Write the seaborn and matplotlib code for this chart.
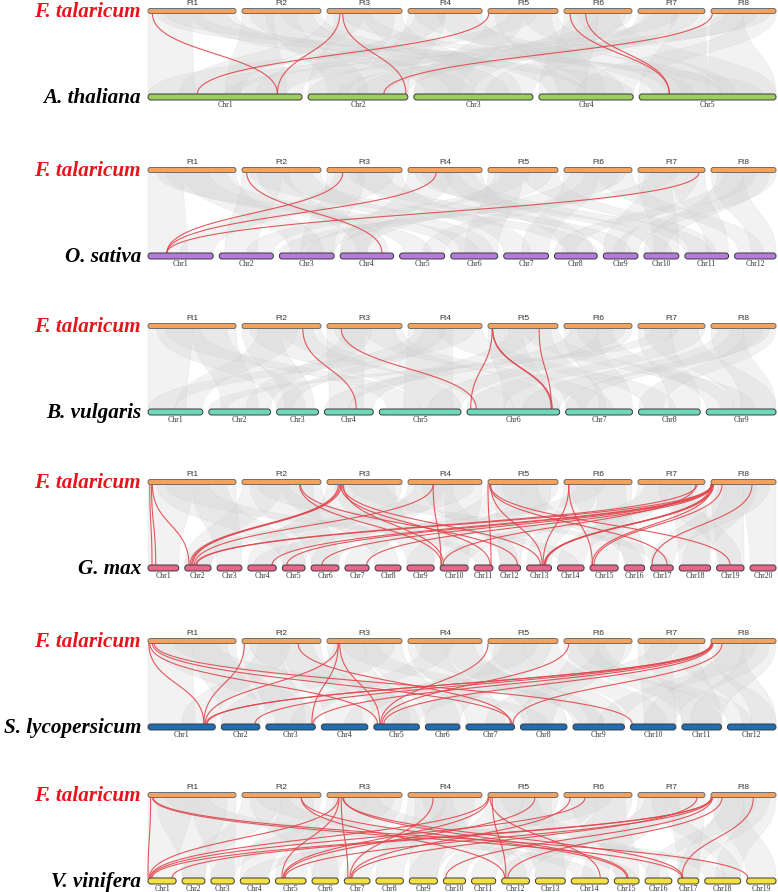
import numpy as np
import pandas as pd
import matplotlib
matplotlib.use("Agg")
import matplotlib.pyplot as plt
import seaborn as sns
from matplotlib.path import Path
from matplotlib.patches import PathPatch, FancyBboxPatch

sns.set_theme(style="white")
plt.rcParams["font.family"] = ["Liberation Serif", "DejaVu Serif"]

# ---------------- data ----------------
REF_NAME = "F. talaricum"
FT_NAMES = ["Ft1", "Ft2", "Ft3", "Ft4", "Ft5", "Ft6", "Ft7", "Ft8"]
FT_LEN = [88, 79, 75, 74, 70, 68, 67, 65]

SPECIES = ["A. thaliana", "O. sativa", "B. vulgaris", "G. max", "S. lycopersicum", "V. vinifera"]
ATH_LEN = [30.4, 19.7, 23.5, 18.6, 27.0]
OSA_LEN = [43.3, 35.9, 36.4, 35.5, 29.9, 31.2, 29.7, 28.4, 23.0, 23.2, 29.0, 27.5]
BVU_LEN = [55, 62, 42, 49, 82, 93, 67, 62, 70]
GMA_LEN = [56.8, 48.6, 45.8, 52.4, 42.2, 51.4, 44.6, 47.8, 50.2, 51.6,
           34.8, 40.1, 45.9, 49.0, 51.8, 37.9, 41.6, 58.0, 50.7, 47.9]
SLY_LEN = [68, 39, 50, 47, 46, 35, 49, 47, 52, 46, 40, 49]
VVI_LEN = [23.0, 18.7, 19.1, 23.9, 25.0, 21.5, 21.0, 22.4, 23.0, 18.1,
           19.8, 22.7, 24.4, 30.3, 20.3, 21.9, 17.1, 29.4, 24.0]

# red (highlighted) links: (Ft chr, position fraction, target chr, position fraction)
RED_ATH = [(1, .05, 1, .84), (3, .17, 1, .84), (3, .21, 2, .98), (5, .01, 1, .32),
           (8, .02, 2, .76), (6, .09, 5, .22), (6, .32, 5, .22)]
RED_OSA = [(2, .06, 4, .78), (3, .21, 1, .29), (4, .38, 1, .29), (7, .91, 1, .29)]
RED_BVU = [(2, .77, 4, .65), (3, .19, 6, .10), (5, .06, 6, .04), (5, .06, 6, .91),
           (5, .07, 6, .92), (5, .73, 6, .91)]
RED_GMA = [(1, .02, 1, .13), (1, .05, 2, .16), (1, .04, 1, .25),
           (2, .73, 10, .05), (2, .74, 12, .85),
           (3, .15, 2, .20), (3, .17, 2, .26), (3, .19, 2, .30), (3, .20, 13, .55),
           (3, .18, 11, .85), (3, .22, 10, .12),
           (4, .34, 10, .03), (4, .34, 2, .36),
           (5, .00, 11, .90), (5, .02, 17, .73), (5, .03, 19, .49), (5, .04, 13, .62),
           (6, .07, 13, .66), (6, .07, 15, .08),
           (7, .88, 2, .42), (7, .86, 10, .10),
           (8, .00, 13, .70), (8, .02, 13, .73), (8, .04, 13, .76), (8, .02, 15, .07),
           (8, .17, 15, .14), (8, .63, 17, .06), (8, .00, 4, .85), (8, .01, 6, .39),
           (8, .02, 7, .90), (8, .01, 2, .45), (8, .03, 5, .20)]
RED_SLY = [(1, .01, 1, .83), (1, .02, 5, .08), (1, .05, 7, .95), (1, .07, 10, .04),
           (2, .03, 1, .83), (2, .71, 7, .92),
           (3, .15, 1, .85), (3, .15, 3, .93), (3, .17, 5, .13),
           (5, .00, 5, .15), (6, .07, 5, .18),
           (8, .00, 1, .86), (8, .02, 1, .88), (8, .01, 2, .87), (8, .02, 3, .95),
           (8, .17, 7, .97), (8, .03, 5, .22)]
RED_VVI = [(1, .03, 1, .00), (1, .06, 19, .04), (1, .05, 17, .20),
           (2, .75, 15, .50), (2, .75, 12, .11),
           (3, .15, 1, .04), (3, .16, 5, .21), (3, .19, 7, .14), (3, .21, 17, .24),
           (3, .22, 15, .55), (4, .34, 7, .22),
           (5, .00, 1, .07), (5, .01, 5, .25), (5, .03, 14, .78), (5, .06, 12, .15),
           (5, .67, 5, .28), (6, .09, 7, .26), (6, .31, 1, .10), (7, .88, 7, .30),
           (8, .00, 1, .85), (8, .01, 5, .31), (8, .02, 10, .10), (8, .17, 12, .22),
           (8, .65, 17, .19), (8, .02, 1, .14)]

# background synteny blocks: (Ft chr, start frac, end frac, target chr, start frac, end frac)
GRAY_ATH = [(1, 0, .5, 1, 0, .3), (1, .5, 1, 3, .1, .5), (1, .2, .6, 5, .6, .9),
            (2, 0, .4, 1, .5, .9), (2, .5, 1, 4, .1, .5), (2, .3, .7, 2, .2, .6),
            (3, 0, .5, 1, .2, .6), (3, .5, 1, 3, .5, .9), (3, .2, .6, 5, .1, .4),
            (4, 0, .5, 2, .5, 1), (4, .4, 1, 4, .5, .9), (4, .1, .5, 1, .7, 1),
            (5, 0, .5, 3, 0, .4), (5, .5, 1, 5, .3, .7), (5, .3, .7, 1, 0, .3),
            (6, 0, .5, 4, 0, .5), (6, .5, 1, 2, 0, .4), (6, .2, .8, 5, .6, 1),
            (7, 0, .6, 3, .6, 1), (7, .5, 1, 5, 0, .5), (7, .2, .6, 1, .3, .6),
            (8, 0, .5, 5, .5, 1), (8, .5, 1, 4, .4, 1), (8, .2, .7, 2, .3, .8),
            (1, .1, .9, 4, .5, 1), (2, .1, .9, 3, .3, .8), (3, .1, .9, 2, 0, .5),
            (4, .1, .9, 5, .2, .6), (5, .1, .9, 4, .2, .7), (6, .1, .9, 3, 0, .5),
            (7, .1, .9, 2, .5, 1), (8, .1, .9, 1, .5, .9)]
GRAY_OSA = [(1, 0, .4, 1, 0, .6), (1, .4, 1, 3, .2, .8), (1, .2, .7, 5, .1, .7),
            (2, 0, .5, 2, .1, .7), (2, .5, 1, 6, .2, .9), (2, .2, .6, 4, .3, .9),
            (3, 0, .5, 3, .4, 1), (3, .4, 1, 7, 0, .6), (3, .3, .8, 9, .1, .8),
            (4, 0, .6, 4, 0, .5), (4, .5, 1, 8, .2, .9), (4, .2, .7, 10, .2, .8),
            (5, 0, .5, 6, .3, 1), (5, .5, 1, 11, .1, .7), (5, .2, .6, 2, .5, 1),
            (6, 0, .5, 7, .4, 1), (6, .5, 1, 12, .1, .7), (6, .3, .8, 5, .5, 1),
            (7, 0, .5, 10, .3, 1), (7, .5, 1, 11, .5, 1), (7, .2, .6, 3, 0, .4),
            (8, 0, .5, 12, .4, 1), (8, .5, 1, 9, .3, 1), (8, .2, .7, 8, 0, .5),
            (1, .1, .9, 6, 0, .6), (2, .1, .9, 8, .3, 1), (3, .1, .9, 1, .5, 1),
            (4, .1, .9, 11, 0, .6), (5, .1, .9, 4, 0, .5), (6, .1, .9, 3, .5, 1),
            (7, .1, .9, 9, 0, .6), (8, .1, .9, 10, 0, .6)]
GRAY_BVU = [(1, 0, .5, 1, 0, .7), (1, .5, 1, 2, .2, .8), (1, .2, .6, 5, .1, .5),
            (2, 0, .5, 3, .2, .9), (2, .5, 1, 6, .1, .5), (2, .2, .7, 1, .5, 1),
            (3, 0, .5, 4, .1, .8), (3, .5, 1, 7, .2, .7), (3, .2, .6, 2, .6, 1),
            (4, 0, .6, 5, .3, .9), (4, .4, 1, 8, .1, .6), (4, .2, .5, 3, 0, .4),
            (5, 0, .5, 6, .4, .9), (5, .5, 1, 9, .2, .7), (5, .3, .7, 4, .5, 1),
            (6, 0, .5, 7, .5, 1), (6, .5, 1, 5, .6, 1), (6, .2, .7, 9, 0, .4),
            (7, 0, .5, 8, .5, 1), (7, .5, 1, 6, 0, .4), (7, .2, .6, 2, 0, .3),
            (8, 0, .5, 9, .5, 1), (8, .5, 1, 8, 0, .4), (8, .3, .8, 7, 0, .3),
            (1, .1, .9, 3, 0, .7), (2, .1, .9, 5, .5, 1), (3, .1, .9, 6, .5, 1),
            (4, .1, .9, 1, 0, .5), (5, .1, .9, 7, 0, .6), (6, .1, .9, 4, 0, .5),
            (7, .1, .9, 9, .4, 1), (8, .1, .9, 6, .6, 1)]
GRAY_GMA = [(1, 0, .5, 1, 0, 1), (1, .5, 1, 3, 0, 1), (1, .2, .7, 11, .1, .9),
            (2, 0, .5, 2, 0, 1), (2, .5, 1, 8, 0, .9), (2, .2, .6, 14, .1, .8),
            (3, 0, .4, 4, 0, 1), (3, .4, 1, 5, 0, 1), (3, .3, .8, 17, .1, .9),
            (4, 0, .5, 6, 0, 1), (4, .5, 1, 10, .2, 1), (4, .2, .6, 12, .1, .9),
            (5, 0, .5, 7, 0, 1), (5, .5, 1, 9, 0, 1), (5, .2, .7, 16, .1, .9),
            (6, 0, .5, 13, 0, 1), (6, .5, 1, 15, 0, 1), (6, .2, .6, 4, .2, .9),
            (7, 0, .5, 14, 0, 1), (7, .5, 1, 18, 0, 1), (7, .3, .8, 19, .1, .9),
            (8, 0, .5, 19, 0, 1), (8, .5, 1, 20, 0, 1), (8, .2, .7, 18, .1, .9),
            (1, .1, .9, 5, 0, 1), (2, .1, .9, 6, 0, 1), (3, .1, .9, 9, 0, 1),
            (4, .1, .9, 2, 0, 1), (5, .1, .9, 12, 0, 1), (6, .1, .9, 16, 0, 1),
            (7, .1, .9, 10, 0, 1), (8, .1, .9, 17, 0, 1)]
GRAY_SLY = [(1, 0, .5, 1, 0, .7), (1, .5, 1, 2, 0, 1), (1, .3, .8, 8, .1, .6),
            (2, 0, .5, 3, 0, .8), (2, .5, 1, 4, .1, .9), (2, .2, .6, 1, .5, 1),
            (3, 0, .5, 5, 0, .8), (3, .5, 1, 6, 0, 1), (3, .2, .7, 9, .1, .6),
            (4, 0, .5, 7, 0, .8), (4, .5, 1, 8, .2, 1), (4, .2, .6, 3, .5, 1),
            (5, 0, .5, 9, .3, 1), (5, .5, 1, 10, 0, .8), (5, .2, .7, 4, .5, 1),
            (6, 0, .5, 11, 0, 1), (6, .5, 1, 7, .4, 1), (6, .2, .6, 12, 0, .5),
            (7, 0, .5, 10, .3, 1), (7, .5, 1, 12, .3, 1), (7, .2, .6, 5, .4, 1),
            (8, 0, .5, 12, .5, 1), (8, .5, 1, 11, .2, 1), (8, .2, .7, 9, .5, 1),
            (1, .1, .9, 3, .2, 1), (2, .1, .9, 5, .3, 1), (3, .1, .9, 2, 0, 1),
            (4, .1, .9, 9, 0, .6), (5, .1, .9, 6, 0, 1), (6, .1, .9, 8, 0, .7),
            (7, .1, .9, 11, 0, 1), (8, .1, .9, 10, .3, 1)]
GRAY_VVI = [(1, 0, .5, 1, 0, 1), (1, .5, 1, 3, 0, 1), (1, .2, .7, 14, .1, .7),
            (2, 0, .5, 2, 0, 1), (2, .5, 1, 4, 0, 1), (2, .2, .6, 15, .1, .9),
            (3, 0, .5, 5, 0, 1), (3, .5, 1, 6, 0, 1), (3, .2, .7, 18, 0, .6),
            (4, 0, .5, 8, 0, 1), (4, .5, 1, 7, 0, 1), (4, .2, .6, 12, .1, .9),
            (5, 0, .5, 9, 0, 1), (5, .5, 1, 10, 0, 1), (5, .2, .7, 16, .1, .9),
            (6, 0, .5, 11, 0, 1), (6, .5, 1, 13, 0, 1), (6, .3, .7, 4, .1, .9),
            (7, 0, .5, 14, .3, 1), (7, .5, 1, 17, 0, 1), (7, .2, .6, 18, .5, 1),
            (8, 0, .5, 19, 0, 1), (8, .5, 1, 18, .3, 1), (8, .2, .7, 16, 0, .5),
            (1, .1, .9, 2, 0, 1), (2, .1, .9, 6, 0, 1), (3, .1, .9, 3, 0, 1),
            (4, .1, .9, 9, 0, 1), (5, .1, .9, 13, 0, 1), (6, .1, .9, 15, 0, 1),
            (7, .1, .9, 12, 0, 1), (8, .1, .9, 17, 0, 1)]

# ---------------- style / layout ----------------
FT_COLOR = "#F5A35C"
TARGET_COLORS = ["#9DCC5F", "#B57BDB", "#6ED8B9", "#E8668C", "#1F6DB5", "#F4E13F"]
PANEL_Y = [11, 170, 326, 482, 641, 795]
DY = 86
X0, X1, GAP = 148, 776, 6
RED = "#E0474D"

panels = [
    (ATH_LEN, RED_ATH, GRAY_ATH), (OSA_LEN, RED_OSA, GRAY_OSA),
    (BVU_LEN, RED_BVU, GRAY_BVU), (GMA_LEN, RED_GMA, GRAY_GMA),
    (SLY_LEN, RED_SLY, GRAY_SLY), (VVI_LEN, RED_VVI, GRAY_VVI),
]


def layout(lengths):
    lengths = np.asarray(lengths, float)
    scale = (X1 - X0 - GAP * (len(lengths) - 1)) / lengths.sum()
    starts, x = [], X0
    for L in lengths:
        starts.append(x)
        x += L * scale + GAP
    return np.array(starts), lengths * scale


def bez(xa, ya, xb, yb, n=60):
    t = np.linspace(0, 1, n)
    ym = (ya + yb) / 2
    x = (1 - t) ** 3 * xa + 3 * (1 - t) ** 2 * t * xa + 3 * (1 - t) * t ** 2 * xb + t ** 3 * xb
    y = (1 - t) ** 3 * ya + 3 * (1 - t) ** 2 * t * ym + 3 * (1 - t) * t ** 2 * ym + t ** 3 * yb
    return x, y


fig = plt.figure(figsize=(7.78, 8.92), dpi=100)
ax = fig.add_axes([0, 0, 1, 1])

ft_s, ft_w = layout(FT_LEN)
red_rows = []
lid = 0
for p, (tlen, reds, grays) in enumerate(panels):
    yt = PANEL_Y[p]
    yb = yt + DY
    t_s, t_w = layout(tlen)
    ya, yb2 = yt + 2.5, yb - 3
    ym = (ya + yb2) / 2
    # gray ribbons
    for (fc, f0, f1, tc, t0, t1) in grays:
        xa0 = ft_s[fc - 1] + f0 * ft_w[fc - 1]
        xa1 = ft_s[fc - 1] + f1 * ft_w[fc - 1]
        xb0 = t_s[tc - 1] + t0 * t_w[tc - 1]
        xb1 = t_s[tc - 1] + t1 * t_w[tc - 1]
        verts = [(xa0, ya), (xa1, ya), (xa1, ym), (xb1, ym), (xb1, yb2),
                 (xb0, yb2), (xb0, ym), (xa0, ym), (xa0, ya), (xa0, ya)]
        codes = [Path.MOVETO, Path.LINETO, Path.CURVE4, Path.CURVE4, Path.CURVE4,
                 Path.LINETO, Path.CURVE4, Path.CURVE4, Path.CURVE4, Path.CLOSEPOLY]
        ax.add_patch(PathPatch(Path(verts, codes), facecolor="#d0d0d0", alpha=0.27,
                               edgecolor="#c4c4c4", lw=0.4, zorder=1))
    # red links
    for (fc, fp, tc, tp) in reds:
        xa = ft_s[fc - 1] + fp * ft_w[fc - 1]
        xb = t_s[tc - 1] + tp * t_w[tc - 1]
        x, y = bez(xa, ya, xb, yb2)
        red_rows.append(pd.DataFrame({"x": x, "y": y, "id": lid}))
        lid += 1

red_df = pd.concat(red_rows, ignore_index=True)
sns.lineplot(data=red_df, x="x", y="y", units="id", estimator=None, sort=False,
             color=RED, lw=0.8, alpha=0.9, ax=ax, legend=False, zorder=3)

# chromosome bars and labels
for p, (tlen, reds, grays) in enumerate(panels):
    yt = PANEL_Y[p]
    yb = yt + DY
    for i, (s, w) in enumerate(zip(ft_s, ft_w)):
        ax.add_patch(FancyBboxPatch((s, yt - 2.5), w, 5,
                                    boxstyle="round,pad=0,rounding_size=2.4",
                                    facecolor=FT_COLOR, edgecolor="#6e6e6e", lw=0.7, zorder=5))
        ax.text(s + w / 2, yt - 4.2, FT_NAMES[i], ha="center", va="bottom", fontsize=6,
                family=["Liberation Sans", "DejaVu Sans"], color="#333333", zorder=6)
    t_s, t_w = layout(tlen)
    for i, (s, w) in enumerate(zip(t_s, t_w)):
        ax.add_patch(FancyBboxPatch((s, yb - 3), w, 6,
                                    boxstyle="round,pad=0,rounding_size=2.8",
                                    facecolor=TARGET_COLORS[p], edgecolor="#3a3a3a", lw=0.7, zorder=5))
        ax.text(s + w / 2, yb + 3.6, f"Chr{i + 1}", ha="center", va="top", fontsize=5.6,
                color="#333333", zorder=6)
    ax.text(141, yt + 6, REF_NAME, ha="right", va="baseline", fontsize=15.2, fontweight="bold",
            fontstyle="italic", color="#E8141C", zorder=6)
    ax.text(141, yb + 6, SPECIES[p], ha="right", va="baseline", fontsize=15.2, fontweight="bold",
            fontstyle="italic", color="black", zorder=6)

ax.set_xlim(0, 778)
ax.set_ylim(892, 0)
ax.axis("off")
fig.savefig("out.png", dpi=100, facecolor="white")
